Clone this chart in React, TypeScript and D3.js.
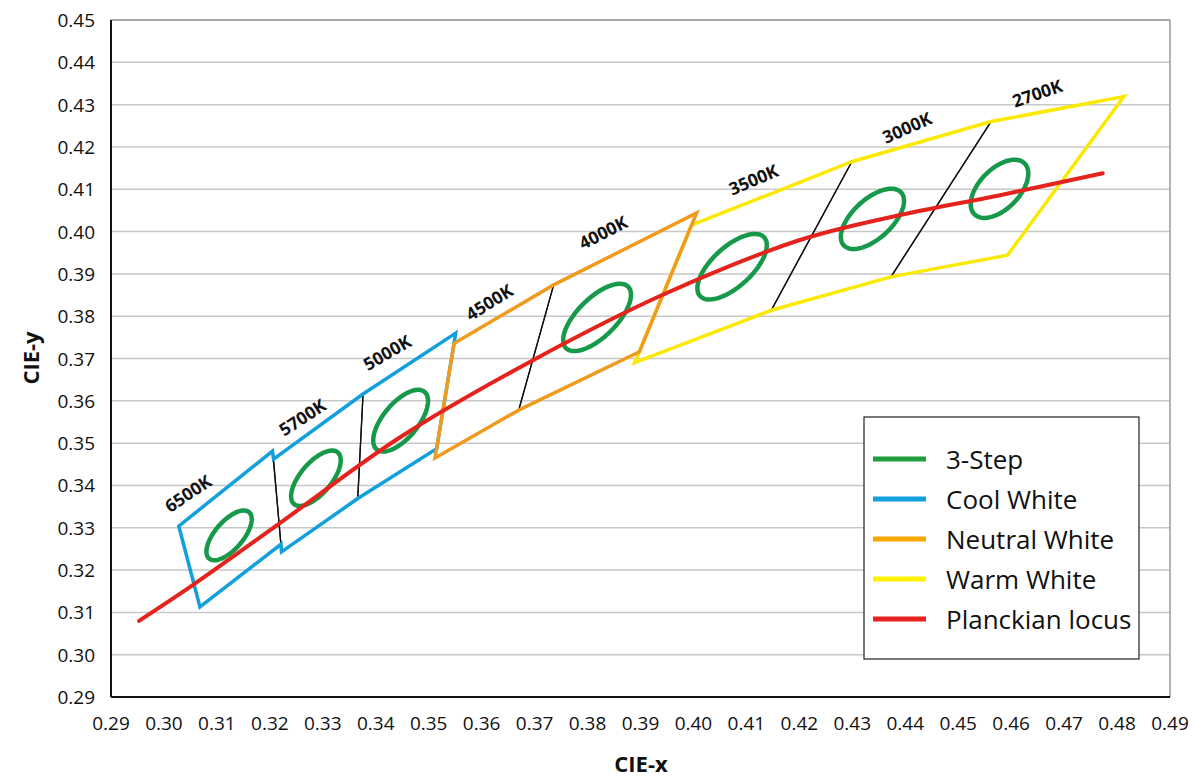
import React from "react";
import * as d3 from "d3";

// ANSI C78.377 quadrangles, corners in order [top-left, bottom-left, bottom-right, top-right]
const cctNames = ["6500K", "5700K", "5000K", "4500K", "4000K", "3500K", "3000K", "2700K"];
const quadCorners: [number, number][][] = [
  [[0.3028, 0.3304], [0.3068, 0.3113], [0.3221, 0.3261], [0.3205, 0.3481]],
  [[0.3207, 0.3462], [0.3222, 0.3243], [0.3366, 0.3369], [0.3376, 0.3616]],
  [[0.3376, 0.3616], [0.3366, 0.3369], [0.3515, 0.3487], [0.3551, 0.376]],
  [[0.3548, 0.3736], [0.3512, 0.3465], [0.367, 0.3578], [0.3736, 0.3874]],
  [[0.3736, 0.3874], [0.367, 0.3578], [0.3898, 0.3716], [0.4006, 0.4044]],
  [[0.3996, 0.4015], [0.3889, 0.369], [0.4147, 0.3814], [0.4299, 0.4165]],
  [[0.4299, 0.4165], [0.4147, 0.3814], [0.4373, 0.3893], [0.4562, 0.426]],
  [[0.4562, 0.426], [0.4373, 0.3893], [0.4593, 0.3944], [0.4813, 0.4319]],
];
// label anchor (CIE x, y) and rotation
const labelX = [0.3045, 0.3261, 0.3421, 0.3614, 0.3829, 0.4113, 0.4403, 0.4649];
const labelY = [0.3382, 0.3562, 0.3715, 0.3834, 0.3999, 0.4124, 0.4247, 0.4328];
const labelAngle = [-34, -33, -30, -32, -27, -23, -24, -19];

// which quads belong to which family
const groups = [
  { name: "Cool White", color: "#12a0dc", quads: [0, 1, 2] },
  { name: "Neutral White", color: "#f09a1e", quads: [3, 4] },
  { name: "Warm White", color: "#fbea00", quads: [5, 6, 7] },
];
const drawOrder = [2, 0, 1];

// 3-step MacAdam ellipses: center x, center y, semi-axes a, b, angle (deg)
const ellX = [0.3123, 0.3287, 0.3447, 0.3818, 0.4073, 0.4338, 0.4578];
const ellY = [0.3282, 0.3417, 0.3553, 0.3797, 0.3917, 0.403, 0.4101];
const ellA = [0.00669, 0.00741, 0.00822, 0.00939, 0.00927, 0.00834, 0.00774];
const ellB = [0.00285, 0.00315, 0.00354, 0.00402, 0.00414, 0.00408, 0.00411];
const ellTheta = [58.23, 58.8, 59.37, 54.0, 52.17, 53.22, 57.17];

// Planckian locus
const locusX = [0.2953, 0.3055, 0.3219, 0.3446, 0.3697, 0.3941, 0.4201, 0.439, 0.4579, 0.4773];
const locusY = [0.308, 0.3165, 0.3311, 0.3514, 0.3696, 0.385, 0.398, 0.4039, 0.4086, 0.4138];

const legendNames = ["3-Step", "Cool White", "Neutral White", "Warm White", "Planckian locus"];
const legendColors = ["#1f9e3c", "#12a0dc", "#f7a800", "#fff000", "#e8221e"];

const xTicks = d3.range(29, 50).map((d) => d / 100);
const yTicks = d3.range(29, 46).map((d) => d / 100);

const App = () => {
  const width = 1195;
  const height = 780;
  const left = 111, right = 1170, top = 20, bottom = 697;

  const x = d3.scaleLinear().domain([0.29, 0.49]).range([left, right]);
  const y = d3.scaleLinear().domain([0.29, 0.45]).range([bottom, top]);
  const fmt = d3.format(".2f");

  const closed = d3.line<[number, number]>().x((d) => x(d[0])).y((d) => y(d[1])).curve(d3.curveLinearClosed);

  const groupPath = (idx: number[]) => {
    const pts: [number, number][] = [];
    idx.forEach((i) => { pts.push(quadCorners[i][1], quadCorners[i][2]); });
    idx.slice().reverse().forEach((i) => { pts.push(quadCorners[i][3], quadCorners[i][0]); });
    return closed(pts);
  };

  const ellipsePath = (i: number) => {
    const t = (ellTheta[i] * Math.PI) / 180;
    const pts: [number, number][] = d3.range(0, 360, 4).map((deg) => {
      const s = (deg * Math.PI) / 180;
      const u = ellA[i] * Math.cos(s);
      const v = ellB[i] * Math.sin(s);
      return [ellX[i] + u * Math.cos(t) - v * Math.sin(t), ellY[i] + u * Math.sin(t) + v * Math.cos(t)];
    });
    return closed(pts);
  };

  const locus = d3
    .line<number>()
    .x((d, i) => x(locusX[i]))
    .y((d, i) => y(locusY[i]))
    .curve(d3.curveCatmullRom.alpha(0.5))(locusX);

  const font = "'Open Sans', 'DejaVu Sans', sans-serif";

  return (
    <div style={{ position: "absolute", left: 0, top: 0 }}>
      <svg width={width} height={height} style={{ display: "block", background: "#fff" }}>
        {/* grid */}
        <g>
          {yTicks.slice(1, -1).map((t) => (
            <line key={t} x1={left} x2={right} y1={y(t)} y2={y(t)} stroke="#c8c8c8" strokeWidth={1.5} />
          ))}
          <line x1={left} x2={right} y1={top} y2={top} stroke="#8a8a8a" strokeWidth={1.5} />
          <line x1={right} x2={right} y1={top} y2={bottom} stroke="#9a9a9a" strokeWidth={1.5} />
          <line x1={left} x2={left} y1={top} y2={bottom} stroke="#111" strokeWidth={2} />
          <line x1={left} x2={right} y1={bottom} y2={bottom} stroke="#111" strokeWidth={2} />
        </g>

        {/* tick labels */}
        <g fontFamily={font} fontSize={19} fill="#111">
          {yTicks.map((t) => (
            <text key={t} x={95} y={y(t)} textAnchor="end" dominantBaseline="central">{fmt(t)}</text>
          ))}
          {xTicks.map((t) => (
            <text key={t} x={x(t)} y={723} textAnchor="middle" dominantBaseline="central">{fmt(t)}</text>
          ))}
        </g>
        <text x={641} y={763} textAnchor="middle" dominantBaseline="central" fontFamily={font} fontWeight="bold" fontSize={22} fill="#111">CIE-x</text>
        <text transform={`translate(30,358) rotate(-90)`} textAnchor="middle" dominantBaseline="central" fontFamily={font} fontWeight="bold" fontSize={22} fill="#111">CIE-y</text>

        {/* thin black quadrangle outlines */}
        <g fill="none" stroke="#111" strokeWidth={1.3}>
          {quadCorners.map((q, i) => (
            <path key={i} d={closed(q) || ""} />
          ))}
        </g>

        {/* colour family outlines */}
        <g fill="none" strokeWidth={3.5}>
          {drawOrder.map((g) => (
            <path key={g} d={groupPath(groups[g].quads) || ""} stroke={groups[g].color} />
          ))}
        </g>

        {/* 3-step ellipses */}
        <g fill="none" stroke="#17994a" strokeWidth={4.5}>
          {ellX.map((d, i) => (
            <path key={i} d={ellipsePath(i) || ""} />
          ))}
        </g>

        {/* Planckian locus */}
        <path d={locus || ""} fill="none" stroke="#e5231d" strokeWidth={4} strokeLinecap="round" />

        {/* CCT labels */}
        <g fontFamily={font} fontWeight="bold" fontSize={17.5} fill="#111">
          {cctNames.map((n, i) => (
            <text
              key={n}
              transform={`translate(${x(labelX[i])},${y(labelY[i])}) rotate(${labelAngle[i]})`}
              textAnchor="middle"
              dominantBaseline="central"
            >
              {n}
            </text>
          ))}
        </g>

        {/* legend */}
        <g>
          <rect x={864} y={417} width={275} height={242} fill="#fff" stroke="#222" strokeWidth={1.2} />
          {legendNames.map((n, i) => (
            <g key={n} transform={`translate(873,${459 + i * 40})`}>
              <line x1={0} x2={53} y1={0} y2={0} stroke={legendColors[i]} strokeWidth={5} />
              <text x={73} y={0} dominantBaseline="central" fontFamily={font} fontSize={26} fill="#111">{n}</text>
            </g>
          ))}
        </g>
      </svg>
    </div>
  );
};

export default App;
